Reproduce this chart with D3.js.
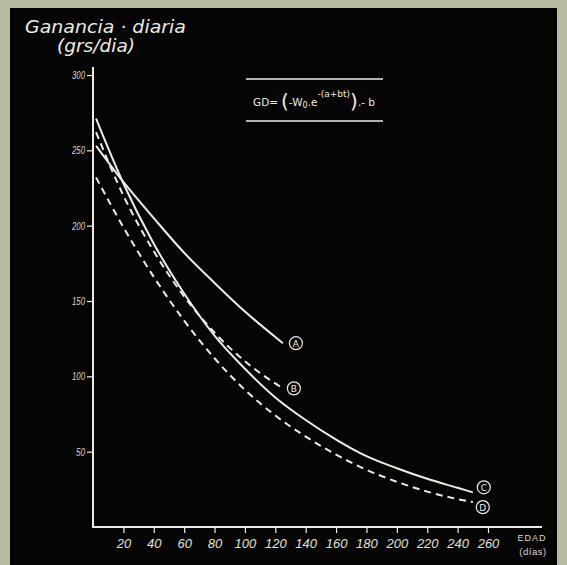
<!DOCTYPE html>
<html><head><meta charset="utf-8">
<script src="https://cdn.jsdelivr.net/npm/d3@7"></script>
<style>html,body{margin:0;padding:0;background:#b9bb9f;}svg{display:block;}</style>
</head><body>
<script>
// ---- data ----
const xTicks = [20,40,60,80,100,120,140,160,180,200,220,240,260];
const yTicks = [50,100,150,200,250,300];
const daysAB = [2,20,40,60,80,100,125];
const gainA  = [253,229,205,182,162,143,122];
const gainB  = [262,220,183,153,129,110,92];
const daysCD = [2,20,40,60,80,100,120,140,160,180,200,220,240,250];
const gainC  = [271,228,188,155,127,105,86,71,58,47,39,32,26,23];
const gainD  = [232,199,166,137,112,91,74,60,48,38,30,23.5,18.5,16.5];
const seriesNames = ["A","B","C","D"];

const W = 567, H = 565;
const ink = "#ecece4";
const svg = d3.select("body").append("svg").attr("width", W).attr("height", H);
svg.append("rect").attr("x",0).attr("y",0).attr("width",W).attr("height",H).attr("fill","#b9bb9f");
svg.append("rect").attr("x",10).attr("y",8).attr("width",547).attr("height",557).attr("fill","#050505");

const x = d3.scaleLinear().domain([0,260]).range([93,488]);
const y = d3.scaleLinear().domain([0,300]).range([527,75]);

// axes lines
svg.append("line").attr("x1",93).attr("x2",93).attr("y1",67).attr("y2",528).attr("stroke",ink).attr("stroke-width",2);
svg.append("line").attr("x1",92).attr("x2",542).attr("y1",y(0)).attr("y2",y(0)).attr("stroke",ink).attr("stroke-width",2);

// y axis
const yAxis = d3.axisLeft(y).tickValues(yTicks).tickSize(6).tickPadding(2).tickFormat(d3.format("d"));
const gy = svg.append("g").attr("transform","translate(93,0)").call(yAxis);
gy.select(".domain").remove();
gy.selectAll("line").attr("stroke",ink).attr("stroke-width",1.2);
gy.selectAll("text").attr("fill","#d8d8d0").style("font-family","'Liberation Sans', sans-serif")
  .style("font-style","italic").style("font-size","11px").attr("textLength",d=>d<100?9:13).attr("lengthAdjust","spacingAndGlyphs");

// x axis
const xAxis = d3.axisBottom(x).tickValues(xTicks).tickSize(6).tickPadding(6).tickFormat(d3.format("d"));
const gx = svg.append("g").attr("transform",`translate(0,${y(0)})`).call(xAxis);
gx.select(".domain").remove();
gx.selectAll("line").attr("stroke",ink).attr("stroke-width",1.2);
gx.selectAll("text").attr("fill","#e0e0d8").style("font-family","'Liberation Sans', sans-serif")
  .style("font-style","italic").style("font-size","13px");

// axis name
svg.append("text").attr("x",532).attr("y",541).attr("text-anchor","middle").attr("fill","#d8d8d0")
  .style("font-family","'Liberation Sans', sans-serif").style("font-size","9px").attr("letter-spacing","1").text("EDAD");
svg.append("text").attr("x",533).attr("y",555).attr("text-anchor","middle").attr("fill","#d8d8d0")
  .style("font-family","'Liberation Sans', sans-serif").style("font-size","9.5px").attr("letter-spacing","0.5").text("(días)");

// title
svg.append("text").attr("x",25).attr("y",33).attr("fill",ink)
  .style("font-family","'DejaVu Sans', sans-serif").style("font-style","italic").style("font-weight","200").style("font-size","17px")
  .attr("textLength",161).attr("lengthAdjust","spacingAndGlyphs").text("Ganancia · diaria");
svg.append("text").attr("x",57).attr("y",52).attr("fill",ink)
  .style("font-family","'DejaVu Sans', sans-serif").style("font-style","italic").style("font-weight","200").style("font-size","17px")
  .attr("textLength",78).attr("lengthAdjust","spacingAndGlyphs").text("(grs/dia)");

// formula box
svg.append("line").attr("x1",246).attr("x2",383).attr("y1",79).attr("y2",79).attr("stroke",ink).attr("stroke-width",1.5);
svg.append("line").attr("x1",246).attr("x2",383).attr("y1",121).attr("y2",121).attr("stroke",ink).attr("stroke-width",1.5);
const ft = svg.append("text").attr("x",253).attr("y",106).attr("fill",ink)
  .style("font-family","'DejaVu Sans', sans-serif").style("font-size","10.5px");
ft.append("tspan").text("GD=");
ft.append("tspan").attr("dx",3).style("font-size","20px").attr("dy",2).text("(");
ft.append("tspan").attr("dy",-2).text("-W");
ft.append("tspan").style("font-size","8px").attr("dy",2).text("0");
ft.append("tspan").attr("dy",-2).text(".e");
ft.append("tspan").style("font-size","9px").attr("dy",-9).text("-(a+bt)");
ft.append("tspan").style("font-size","20px").attr("dy",11).text(")");
ft.append("tspan").attr("dy",-2).text(".- b");

// curves
const line = d3.line().x(d=>x(d[0])).y(d=>y(d[1])).curve(d3.curveMonotoneX);
const series = [
  {name:seriesNames[0], pts:d3.zip(daysAB,gainA), dash:null,  off:[13,0]},
  {name:seriesNames[1], pts:d3.zip(daysAB,gainB), dash:"7,5", off:[11,0]},
  {name:seriesNames[2], pts:d3.zip(daysCD,gainC), dash:null,  off:[11,-5]},
  {name:seriesNames[3], pts:d3.zip(daysCD,gainD), dash:"7,5", off:[10,5]}
];
series.forEach(s=>{
  svg.append("path").attr("d",line(s.pts)).attr("fill","none").attr("stroke",ink)
    .attr("stroke-width",2).attr("stroke-dasharray",s.dash);
  const last = s.pts[s.pts.length-1];
  const cx = x(last[0])+s.off[0], cy = y(last[1])+s.off[1];
  svg.append("circle").attr("cx",cx).attr("cy",cy).attr("r",6.5).attr("fill","none").attr("stroke",ink).attr("stroke-width",1.2);
  svg.append("text").attr("x",cx).attr("y",cy+3.5).attr("text-anchor","middle").attr("fill",ink)
    .style("font-family","'DejaVu Sans', sans-serif").style("font-size","9px").text(s.name);
});
</script>
</body></html>
